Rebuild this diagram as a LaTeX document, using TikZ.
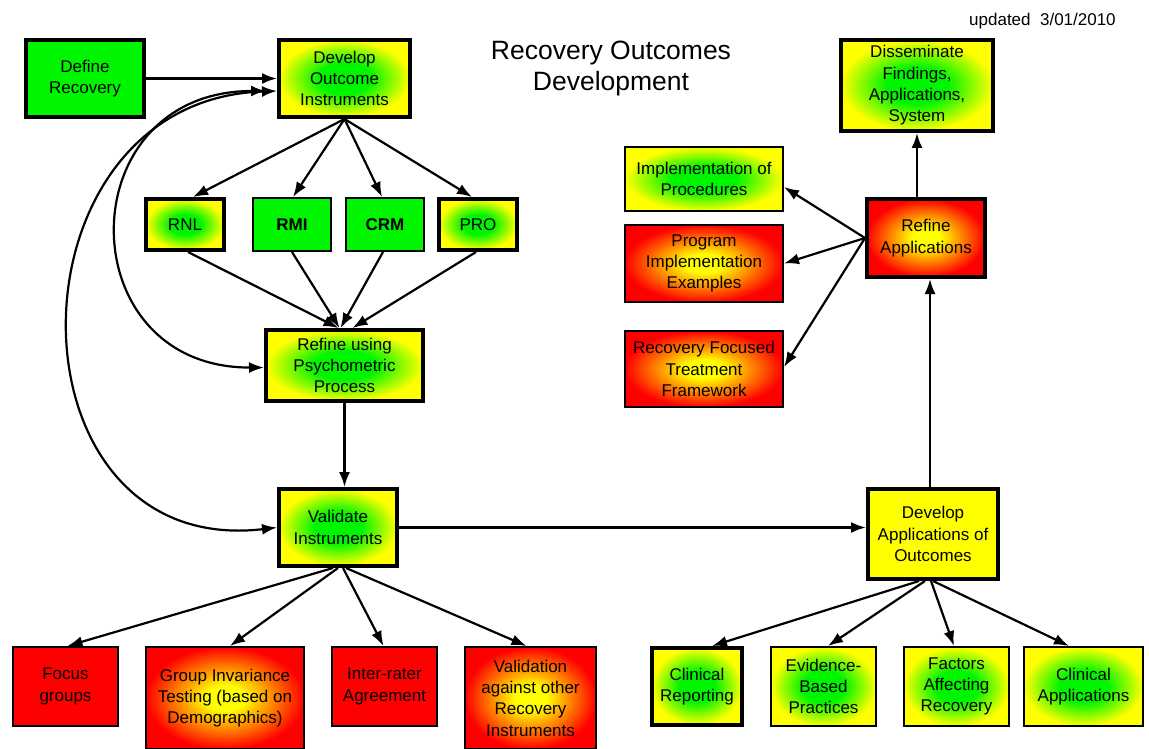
\documentclass[tikz,border=0pt]{standalone}
\usepackage{fontspec}
\setmainfont{Liberation Sans}
\usetikzlibrary{arrows.meta}
\definecolor{cgreen}{RGB}{0,245,0}
\definecolor{cyellow}{RGB}{255,255,0}
\definecolor{cred}{RGB}{255,0,0}
\pgfdeclareradialshading{gyshade}{\pgfpoint{0bp}{0bp}}{color(0bp)=(cgreen); color(10bp)=(cgreen); color(25bp)=(cyellow); color(50bp)=(cyellow)}
\pgfdeclareradialshading{ryshade}{\pgfpoint{0bp}{0bp}}{color(0bp)=(cyellow); color(6bp)=(cyellow); color(25bp)=(cred); color(50bp)=(cred)}
\tikzset{
  box/.style={draw=black, rectangle, inner sep=0pt, align=center, font=\fontsize{17}{21.3}\selectfont},
  thickb/.style={box, line width=4pt},
  thinb/.style={box, line width=1.6pt},
  gy/.style={shading=gyshade},
  ry/.style={shading=ryshade},
  sgreen/.style={fill=cgreen},
  syellow/.style={fill=cyellow},
  sred/.style={fill=cred},
  sz/.style 2 args={minimum width=#1pt, minimum height=#2pt},
  conn/.style={line width=2.2pt, -{Latex[length=15pt,width=11pt]}},
  dconn/.style={line width=2.2pt, {Latex[length=15pt,width=11pt]}-{Latex[length=15pt,width=11pt]}},
}
\begin{document}
\begin{tikzpicture}[x=1pt,y=-1pt]
\useasboundingbox (0,0) rectangle (1149,749);
\fill[white] (0,0) rectangle (1149,749);

% title and date
\node[font=\fontsize{26.5}{31}\selectfont, align=center, inner sep=0pt] (title) at (611,68) {Recovery Outcomes\\Development};
\node[font=\fontsize{17}{20}\selectfont, anchor=west, inner sep=0pt] (upd) at (969,21) {updated\ \ 3/01/2010};

% left part
\node[thickb, sgreen, sz={118}{77}] (defrec) at (85,78.5) {Define\\Recovery};
\node[thickb, gy, sz={131}{77}] (doi) at (344.5,78.5) {Develop\\Outcome\\Instruments};
\node[thickb, gy, sz={78}{51}] (rnl) at (185,224.5) {RNL};
\node[thinb, sgreen, sz={78.4}{53.4}] (rmi) at (292,224.5) {\bfseries RMI};
\node[thinb, sgreen, sz={78.4}{53.4}] (crm) at (385,224.5) {\bfseries CRM};
\node[thickb, gy, sz={78}{51}] (pro) at (478,224.5) {PRO};
\node[thickb, gy, sz={157}{71}] (rpp) at (344.5,365.5) {Refine using\\Psychometric\\Process};
\node[thickb, gy, sz={118}{77}] (val) at (338,527.5) {Validate\\Instruments};

\node[thinb, sred, sz={105.4}{79.4}] (focus) at (65.5,686.5) {Focus\\groups};
\node[thinb, ry, sz={158.4}{102.4}] (group) at (225,698) {Group Invariance\\Testing (based on\\Demographics)};
\node[thinb, sred, sz={105.4}{79.4}] (inter) at (384.5,686.5) {Inter-rater\\Agreement};
\node[thinb, ry, sz={131.4}{102.4}] (valag) at (530.5,698) {Validation\\against other\\Recovery\\Instruments};

% right part
\node[thickb, syellow, sz={130}{90}] (devapp) at (933,534) {Develop\\Applications of\\Outcomes};
\node[thickb, gy, sz={90}{77}] (clinrep) at (697,686.5) {Clinical\\Reporting};
\node[thinb, gy, sz={105.4}{79.4}] (evid) at (823.5,686.5) {Evidence-\\Based\\Practices};
\node[thinb, gy, sz={105.4}{79.4}] (factors) at (956.5,686.5) {Factors\\Affecting\\Recovery};
\node[thinb, gy, sz={119.4}{79.4}] (clinapp) at (1083.5,686.5) {Clinical\\Applications};

\node[thickb, ry, sz={118}{78}] (refapp) at (926,238) {Refine\\Applications};
\node[thickb, gy, sz={152}{91}] (dissem) at (917,85.5) {Disseminate\\Findings,\\Applications,\\System};
\node[thinb, gy, sz={158.4}{64.4}] (impl) at (704,179) {Implementation of\\Procedures};
\node[thinb, ry, sz={158.4}{77.4}] (prog) at (704,263.5) {Program\\Implementation\\Examples};
\node[thinb, ry, sz={158.4}{76.4}] (rftf) at (704,369) {Recovery Focused\\Treatment\\Framework};

% connectors - left
\draw[conn] (defrec.east) -- (defrec.east -| doi.west);
\draw[conn] (doi.south) -- ([xshift=8pt]rnl.north);
\draw[conn] (doi.south) -- ([xshift=1pt]rmi.north);
\draw[conn] (doi.south) -- ([xshift=-3pt]crm.north);
\draw[conn] (doi.south) -- ([xshift=-6pt]pro.north);
\draw[conn] ([xshift=3pt]rnl.south) -- ([xshift=-6pt]rpp.north);
\draw[conn] (rmi.south) -- ([xshift=-5pt]rpp.north);
\draw[conn] ([xshift=-2pt]crm.south) -- ([xshift=-4pt]rpp.north);
\draw[conn] ([xshift=-2pt]pro.south) -- ([xshift=8pt]rpp.north);
\draw[conn] (rpp.south) -- (rpp.south |- val.north);
\draw[conn] (val.east) -- (val.east -| devapp.west);
\draw[conn] ([xshift=-5pt]val.south) -- ([xshift=2pt]focus.north);
\draw[conn] (val.south) -- ([xshift=5pt]group.north);
\draw[conn] ([xshift=5pt]val.south) -- ([xshift=-1pt]inter.north);
\draw[conn] ([xshift=8pt]val.south) -- ([xshift=-4pt]valag.north);
\draw[dconn, shorten <=11pt] ([yshift=-12.5pt]doi.west) .. controls (68,91) and (68,368) .. ([yshift=-2pt]rpp.west);
\draw[dconn] ([yshift=-12.5pt]doi.west) .. controls (0,100) and (0,560) .. (val.west);

% connectors - right
\draw[conn] ([xshift=-14pt]devapp.south) -- ([xshift=15pt]clinrep.north);
\draw[conn] ([xshift=-8pt]devapp.south) -- ([xshift=4.5pt]evid.north);
\draw[conn] ([xshift=-2pt]devapp.south) -- ([xshift=-2.5pt]factors.north);
\draw[conn] ([xshift=0pt]devapp.south) -- ([xshift=-14.5pt]clinapp.north);
\draw[conn] ([xshift=-3pt]devapp.north) -- ([xshift=-3pt]devapp.north |- refapp.south);
\draw[conn] (dissem.south |- refapp.north) -- (dissem.south);
\draw[conn] (refapp.west) -- ([yshift=-8pt]impl.east);
\draw[conn] (refapp.west) -- (prog.east);
\draw[conn] (refapp.west) -- ([yshift=2pt]rftf.east);
\end{tikzpicture}
\end{document}
